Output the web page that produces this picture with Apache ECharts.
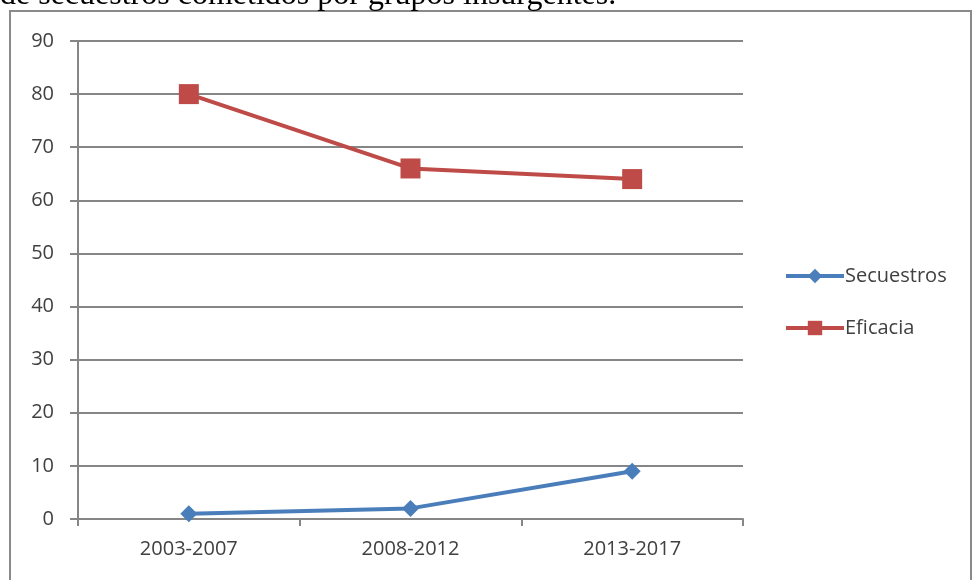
<!DOCTYPE html>
<html>
<head>
<meta charset="utf-8">
<script src="https://cdn.jsdelivr.net/npm/echarts@6.0.0/dist/echarts.min.js"></script>
<style>
html,body{margin:0;padding:0;background:#fff;}
#c{width:972px;height:580px;}
</style>
</head>
<body>
<div id="c"></div>
<script>
const categories = ['2003-2007', '2008-2012', '2013-2017'];
const secuestros = [1, 2, 9];
const eficacia = [80, 66, 64];
const yTicks = [0, 10, 20, 30, 40, 50, 60, 70, 80, 90];
const titleText = 'de secuestros cometidos por grupos insurgentes.';

const FONT = 'Open Sans, Liberation Sans, sans-serif';
const chart = echarts.init(document.getElementById('c'));
chart.setOption({
  animation: false,
  backgroundColor: '#ffffff',
  graphic: [
    { type: 'rect', shape: { x: 10, y: 11, width: 961, height: 580 }, style: { fill: 'none', stroke: '#8a8a8a', lineWidth: 2 }, z: 0 },
    { type: 'text', left: 0, top: -20, style: { text: titleText, font: '32px "Liberation Serif", "DejaVu Serif", serif', fill: '#000' }, z: 10 }
  ],
  grid: { left: 78, right: 229, top: 41, bottom: 61, containLabel: false },
  legend: {
    orient: 'vertical',
    left: 779,
    top: 261,
    itemWidth: 58,
    itemHeight: 18,
    itemGap: 32,
    lineStyle: { width: 4 },
    textStyle: { fontFamily: FONT, fontSize: 20, color: '#404040', padding: [0, 0, 0, -4] },
    data: ['Secuestros', 'Eficacia']
  },
  xAxis: {
    type: 'category',
    data: categories,
    boundaryGap: true,
    axisLine: { lineStyle: { color: '#868686', width: 2 } },
    axisTick: { show: true, length: 7, alignWithLabel: false, lineStyle: { color: '#868686', width: 2 } },
    axisLabel: { color: '#404040', fontSize: 20, fontFamily: FONT, margin: 20 },
    splitLine: { show: false }
  },
  yAxis: {
    type: 'value',
    min: 0, max: 90, interval: 10,
    axisLine: { show: true, lineStyle: { color: '#868686', width: 2 } },
    axisTick: { show: true, length: 8, lineStyle: { color: '#868686', width: 2 } },
    axisLabel: { color: '#404040', fontSize: 20, fontFamily: FONT, margin: 24,
      formatter: v => yTicks.includes(v) ? String(v) : '' },
    splitLine: { show: true, lineStyle: { color: '#868686', width: 2 } }
  },
  series: [
    {
      name: 'Secuestros', type: 'line', data: secuestros,
      symbol: 'diamond', symbolSize: 17,
      lineStyle: { color: '#4a7ebb', width: 4 },
      itemStyle: { color: '#4a7ebb' }
    },
    {
      name: 'Eficacia', type: 'line', data: eficacia,
      symbol: 'rect', symbolSize: 20,
      lineStyle: { color: '#be4b48', width: 4 },
      itemStyle: { color: '#be4b48' }
    }
  ]
});
</script>
</body>
</html>
